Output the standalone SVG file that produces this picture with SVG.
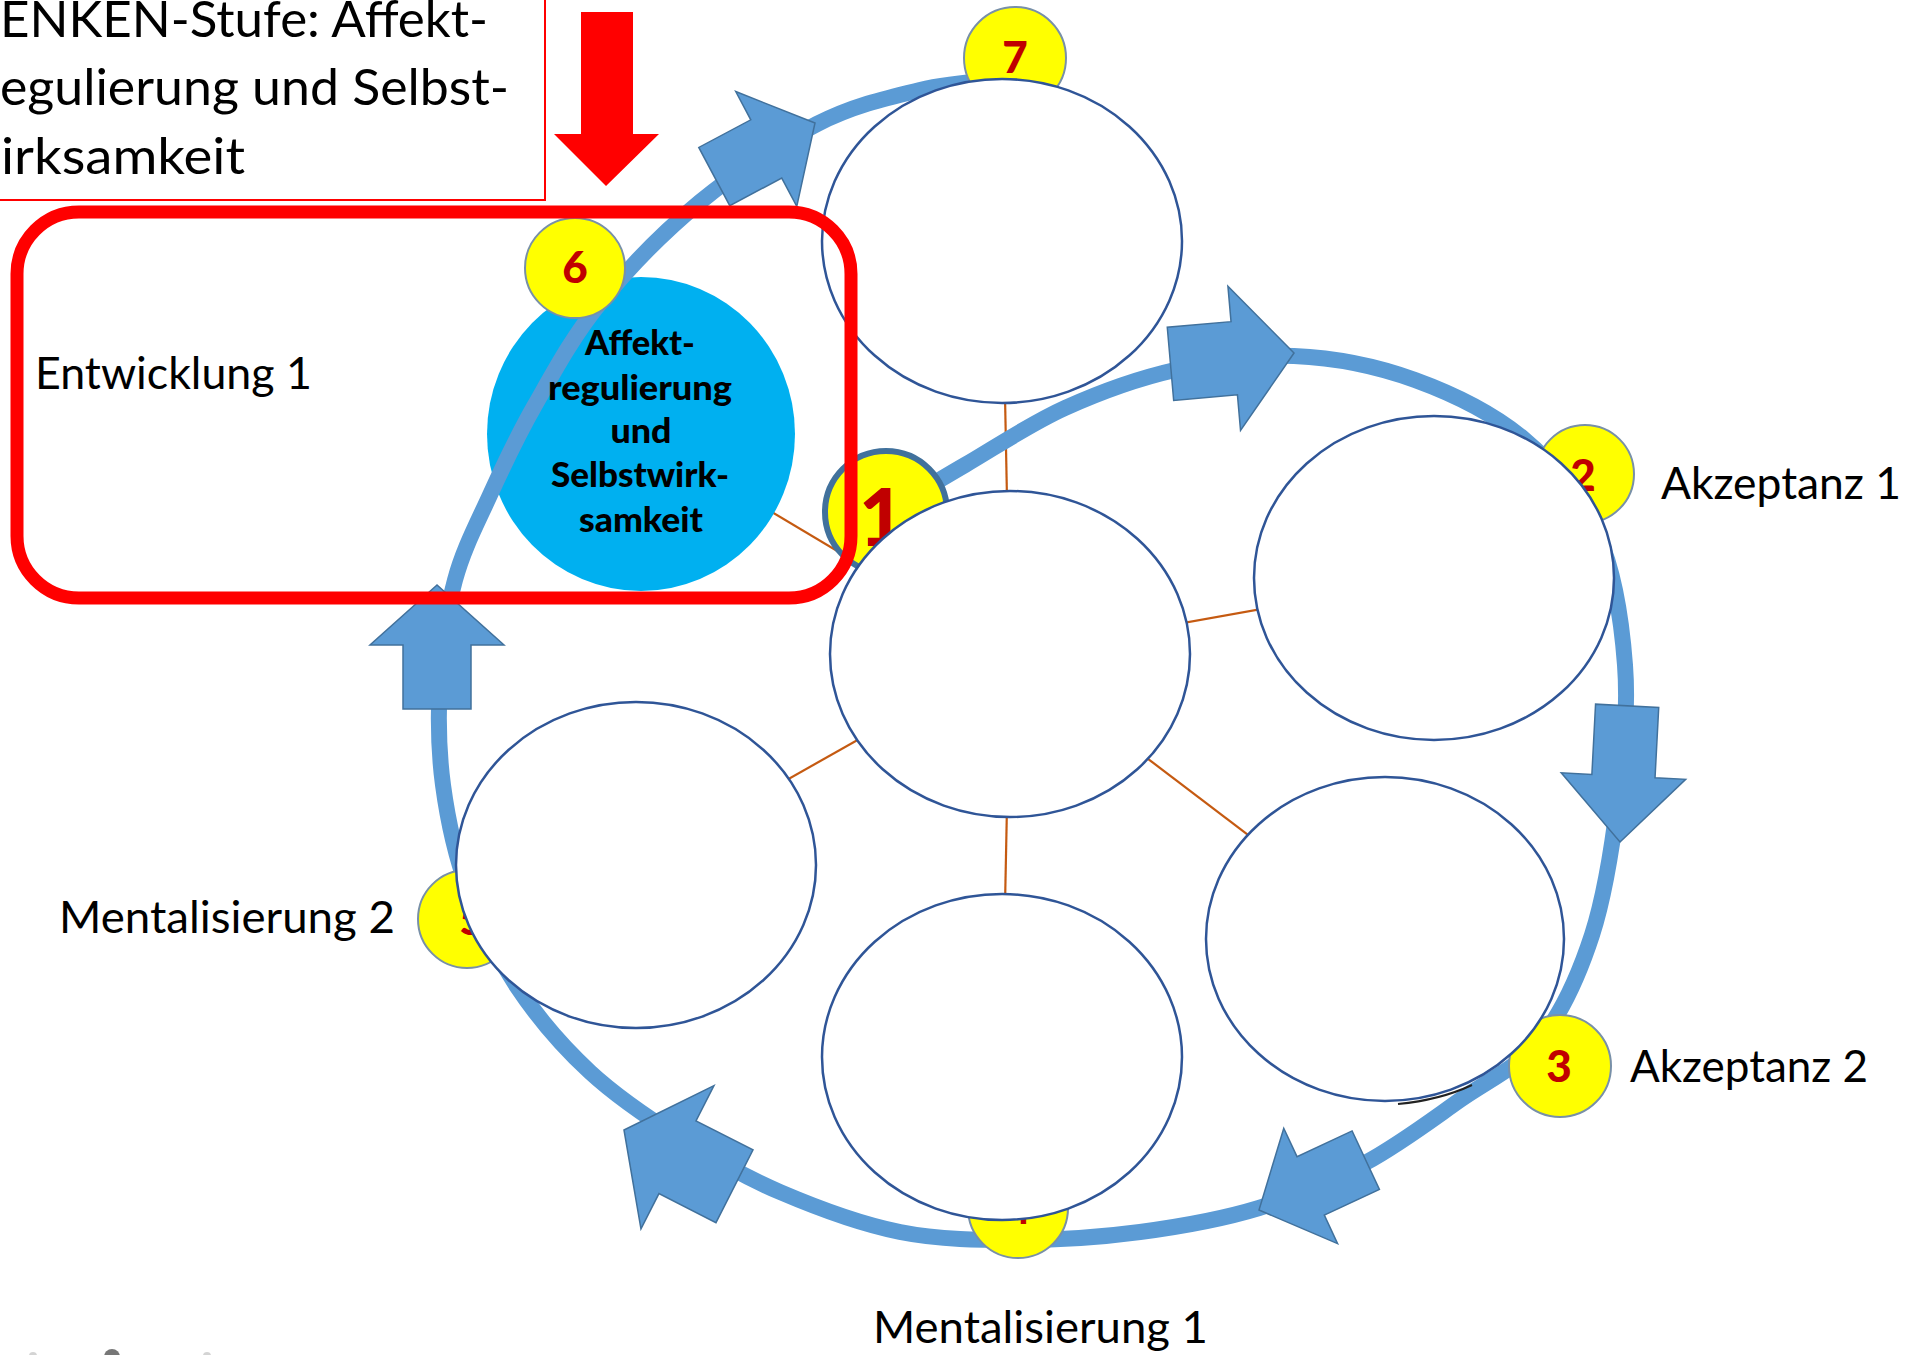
<svg xmlns="http://www.w3.org/2000/svg" width="1919" height="1355" viewBox="0 0 1919 1355">
  <defs>
    <style>
      .title{font-family:Lato,"Open Sans","Liberation Sans",sans-serif;font-size:50px;fill:#000}
      .lbl{font-family:Lato,"Open Sans","Liberation Sans",sans-serif;font-size:44px;fill:#000}
      .inner{font-family:Lato,"Open Sans","Liberation Sans",sans-serif;font-weight:900;font-size:34px;fill:#000;text-anchor:middle}
      .num{font-family:Lato,"Open Sans","Liberation Sans",sans-serif;font-weight:900;font-size:44px;fill:#C00000;text-anchor:middle}
      .badge{fill:#FFFF00;stroke:#7890A8;stroke-width:2}
      .node{fill:#fff;stroke:#2F5597;stroke-width:2.5}
      .link{fill:none;stroke:#C55A11;stroke-width:2.2}
      .ring{fill:none;stroke:#5B9BD5;stroke-width:16}
    </style>
    <!-- block arrow, tip at origin, pointing along +x -->
    <path id="blk" d="M0,0 L-60,-67 L-60,-34 L-124,-34 L-124,34 L-60,34 L-60,67 Z" fill="#5B9BD5" stroke="#41719C" stroke-width="1.5" vector-effect="non-scaling-stroke"/>
  </defs>

  <rect width="1919" height="1355" fill="#fff"/>

  <!-- callout box with stage text and red pointer -->
  <g id="callout">
    <rect x="-10" y="-10" width="555" height="210" fill="#fff" stroke="#FF0000" stroke-width="2"/>
    <text class="title" x="0" y="37" textLength="488" lengthAdjust="spacingAndGlyphs">ENKEN-Stufe: Affekt-</text>
    <text class="title" x="0" y="105" textLength="509" lengthAdjust="spacingAndGlyphs">egulierung und Selbst-</text>
    <text class="title" x="1" y="174" textLength="244" lengthAdjust="spacingAndGlyphs">irksamkeit</text>
    <polygon points="581,12 633,12 633,134 659,134 606,186 554,134 581,134" fill="#FF0000"/>
  </g>

  <!-- spokes from the centre node -->
  <g id="connectors">
    <line class="link" x1="1010" y1="654" x2="1002" y2="241"/>
    <line class="link" x1="1010" y1="654" x2="1434" y2="578"/>
    <line class="link" x1="1010" y1="654" x2="1385" y2="939"/>
    <line class="link" x1="1010" y1="654" x2="1002" y2="1057"/>
    <line class="link" x1="1010" y1="654" x2="636" y2="865"/>
    <line class="link" x1="1010" y1="654" x2="641" y2="434"/>
  </g>

  <g id="node-affekt">
    <ellipse cx="641" cy="434" rx="154" ry="157" fill="#00B0F0"/>
  </g>

  <!-- circular flow with block arrows -->
  <g id="cycle">
    <path class="ring" d="M886,512 C899.2,504.2 935.2,482.3 965,465 C994.8,447.7 1030,423.8 1065,408 C1100,392.2 1136.8,378.7 1175,370 C1213.2,361.3 1254,354.3 1294,356 C1334,357.7 1376.5,366 1415,380 C1453.5,394 1494.5,414.2 1525,440 C1555.5,465.8 1581.3,497.5 1598,535 C1614.7,572.5 1621.7,620.8 1625,665 C1628.3,709.2 1623.5,755 1618,800 C1612.5,845 1605,895 1592,935 C1579,975 1562,1012.5 1540,1040 C1518,1067.5 1489.2,1079.5 1460,1100 C1430.8,1120.5 1398.5,1145 1365,1163 C1331.5,1181 1296.5,1196.5 1259,1208 C1221.5,1219.5 1179.8,1226.7 1140,1232 C1100.2,1237.3 1060,1240 1020,1240 C980,1240 940,1240 900,1232 C860,1224 816.7,1207.7 780,1192 C743.3,1176.3 711.7,1158 680,1138 C648.3,1118 617,1097 590,1072 C563,1047 538.3,1018.3 518,988 C497.7,957.7 480.5,923.8 468,890 C455.5,856.2 447.7,820 443,785 C438.3,750 438,714.2 440,680 C442,645.8 446.7,610.8 455,580 C463.3,549.2 476.7,524.2 490,495 C503.3,465.8 516.7,437 535,405 C553.3,373 572.5,336.8 600,303 C627.5,269.2 663.8,231.8 700,202 C736.2,172.2 780.3,142.7 817,124 C853.7,105.3 887.8,97.7 920,90 C952.2,82.3 995,80 1010,78"/>
    <use href="#blk" transform="translate(1294,353) rotate(-5) scale(1,1.08)"/>
    <use href="#blk" transform="translate(1620,842) rotate(93) scale(1.1,0.93)"/>
    <use href="#blk" transform="translate(1259,1210) rotate(155) scale(0.95,0.95)"/>
    <use href="#blk" transform="translate(624,1130) rotate(207) scale(1,1.2)"/>
    <use href="#blk" transform="translate(437,585) rotate(-90)"/>
    <use href="#blk" transform="translate(815,123) rotate(-28) scale(0.92,0.97)"/>
  </g>

  <g id="node-affekt-text">
    <text class="inner" x="640" y="355" textLength="110" lengthAdjust="spacingAndGlyphs">Affekt-</text>
    <text class="inner" x="640" y="400" textLength="184" lengthAdjust="spacingAndGlyphs">regulierung</text>
    <text class="inner" x="641" y="443" textLength="61" lengthAdjust="spacingAndGlyphs">und</text>
    <text class="inner" x="640" y="487" textLength="178" lengthAdjust="spacingAndGlyphs">Selbstwirk-</text>
    <text class="inner" x="641" y="532" textLength="124" lengthAdjust="spacingAndGlyphs">samkeit</text>
  </g>

  <!-- numbered step markers -->
  <g id="badge-6">
    <circle class="badge" cx="575" cy="268" r="50"/>
    <text class="num" x="575" y="283">6</text>
  </g>
  <g id="badge-7">
    <circle class="badge" cx="1015" cy="58" r="51"/>
    <text class="num" x="1015" y="73">7</text>
  </g>
  <g id="badge-1">
    <circle cx="886" cy="512" r="61" fill="#FFFF00" stroke="#41719C" stroke-width="6"/>
    <text class="num" x="882" y="546" style="font-size:80px">1</text>
  </g>
  <g id="badge-2">
    <circle class="badge" cx="1585" cy="474" r="49"/>
    <text class="num" x="1583" y="491">2</text>
  </g>
  <g id="badge-3">
    <circle class="badge" cx="1560" cy="1066" r="51"/>
    <text class="num" x="1559" y="1082">3</text>
  </g>
  <g id="badge-4">
    <circle class="badge" cx="1018" cy="1208" r="50"/>
    <text class="num" x="1018" y="1224">4</text>
  </g>
  <g id="badge-5">
    <circle class="badge" cx="467" cy="919" r="49"/>
    <text class="num" x="472" y="935">5</text>
  </g>

  <!-- empty content nodes -->
  <g id="node-top">
    <ellipse class="node" cx="1002" cy="241" rx="180" ry="162"/>
  </g>
  <g id="node-akzeptanz-1">
    <ellipse class="node" cx="1434" cy="578" rx="180" ry="162"/>
  </g>
  <g id="node-akzeptanz-2">
    <path d="M1398,1104 Q1440,1100 1472,1085" fill="none" stroke="#222" stroke-width="2"/>
    <ellipse class="node" cx="1385" cy="939" rx="179" ry="162"/>
  </g>
  <g id="node-mentalisierung-1">
    <ellipse class="node" cx="1002" cy="1057" rx="180" ry="163"/>
  </g>
  <g id="node-mentalisierung-2">
    <ellipse class="node" cx="636" cy="865" rx="180" ry="163"/>
  </g>
  <g id="node-center">
    <ellipse class="node" cx="1010" cy="654" rx="180" ry="163"/>
  </g>

  <g id="labels">
    <text class="lbl" x="35" y="389" textLength="277" lengthAdjust="spacingAndGlyphs">Entwicklung 1</text>
    <text class="lbl" x="1661" y="499" textLength="240" lengthAdjust="spacingAndGlyphs">Akzeptanz 1</text>
    <text class="lbl" x="1630" y="1082" textLength="238" lengthAdjust="spacingAndGlyphs">Akzeptanz 2</text>
    <text class="lbl" x="59" y="933" textLength="336" lengthAdjust="spacingAndGlyphs">Mentalisierung 2</text>
    <text class="lbl" x="873" y="1343" textLength="335" lengthAdjust="spacingAndGlyphs">Mentalisierung 1</text>
  </g>

  <!-- small marks along the lower edge -->
  <g id="edge-marks">
    <circle cx="33" cy="1356" r="4" fill="#d4d4d4"/>
    <circle cx="112" cy="1357" r="8" fill="#777"/>
    <circle cx="207" cy="1356" r="4" fill="#d4d4d4"/>
  </g>

  <!-- highlight frame around the current stage -->
  <g id="highlight">
    <rect x="17" y="212" width="834" height="386" rx="62" fill="none" stroke="#FF0000" stroke-width="13"/>
  </g>
</svg>
